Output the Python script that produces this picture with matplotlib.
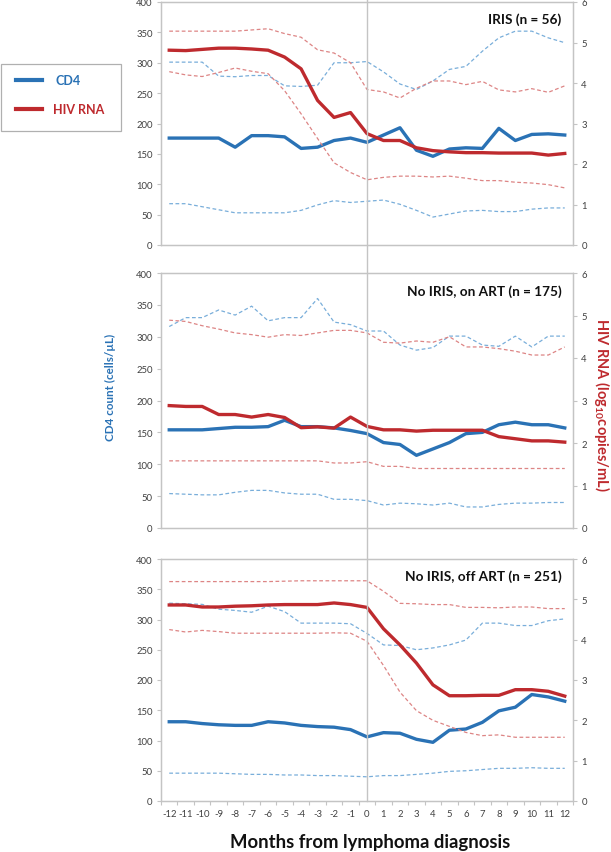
import matplotlib
matplotlib.use('Agg')
from matplotlib import pyplot as plt
from matplotlib import transforms
from matplotlib.lines import Line2D
from matplotlib.patches import Rectangle
import numpy as np

plt.rcParams['font.family'] = ['Lato', 'DejaVu Sans']
plt.rcParams['mathtext.fontset'] = 'custom'
plt.rcParams['mathtext.rm'] = 'Lato:bold'
plt.rcParams['mathtext.bf'] = 'Lato:bold'

months = list(range(-12, 13))

# IRIS (n = 56)
iris_cd4 = [176, 176, 176, 176, 161, 180, 180, 178, 159, 161, 172, 176, 169,
            181, 193, 156, 146, 158, 160, 159, 192, 172, 182, 183, 181]
iris_cd4_hi = [301, 301, 301, 278, 277, 279, 279, 262, 261, 263, 300, 300, 302,
               285, 265, 256, 270, 289, 294, 319, 341, 352, 352, 341, 333]
iris_cd4_lo = [68, 68, 63, 58, 53, 53, 53, 53, 57, 66, 73, 70, 72,
               74, 67, 57, 46, 51, 56, 57, 55, 55, 59, 61, 61]
iris_rna = [4.81, 4.80, 4.83, 4.86, 4.86, 4.84, 4.81, 4.64, 4.35, 3.57, 3.15, 3.27, 2.75,
            2.58, 2.58, 2.40, 2.33, 2.30, 2.28, 2.28, 2.27, 2.27, 2.27, 2.22, 2.26]
iris_rna_hi = [5.28, 5.28, 5.28, 5.28, 5.28, 5.31, 5.34, 5.22, 5.13, 4.82, 4.74, 4.50, 3.84,
               3.78, 3.63, 3.87, 4.05, 4.05, 3.96, 4.04, 3.83, 3.78, 3.86, 3.77, 3.93]
iris_rna_lo = [4.28, 4.20, 4.16, 4.26, 4.37, 4.29, 4.23, 3.81, 3.24, 2.63, 2.03, 1.79, 1.61,
               1.67, 1.70, 1.70, 1.68, 1.70, 1.65, 1.59, 1.59, 1.55, 1.53, 1.49, 1.41]

# No IRIS, on ART (n = 175)
on_cd4 = [154, 154, 154, 156, 158, 158, 159, 169, 159, 159, 157, 153, 148,
          134, 131, 114, 124, 134, 148, 150, 162, 166, 162, 162, 157]
on_cd4_hi = [316, 330, 330, 342, 334, 348, 325, 330, 330, 360, 323, 319, 309,
             309, 287, 279, 283, 301, 301, 287, 285, 301, 284, 301, 301]
on_cd4_lo = [54, 53, 52, 52, 56, 59, 59, 55, 53, 53, 45, 45, 43,
             36, 39, 38, 36, 39, 33, 33, 37, 39, 39, 40, 40]
on_rna = [2.88, 2.86, 2.86, 2.67, 2.67, 2.61, 2.67, 2.60, 2.36, 2.38, 2.35, 2.61, 2.39,
          2.31, 2.31, 2.28, 2.30, 2.30, 2.30, 2.30, 2.15, 2.10, 2.05, 2.05, 2.02]
on_rna_hi = [4.89, 4.86, 4.76, 4.68, 4.59, 4.55, 4.49, 4.55, 4.53, 4.59, 4.65, 4.65, 4.59,
             4.37, 4.35, 4.40, 4.37, 4.50, 4.26, 4.26, 4.22, 4.16, 4.07, 4.07, 4.26]
on_rna_lo = [1.58, 1.58, 1.58, 1.58, 1.58, 1.58, 1.58, 1.58, 1.58, 1.58, 1.53, 1.53, 1.56,
             1.45, 1.45, 1.40, 1.40, 1.40, 1.40, 1.40, 1.40, 1.40, 1.40, 1.40, 1.40]

# No IRIS, off ART (n = 251)
off_cd4 = [131, 131, 128, 126, 125, 125, 131, 129, 125, 123, 122, 118, 106,
           113, 112, 102, 97, 117, 119, 130, 149, 155, 176, 172, 165]
off_cd4_hi = [327, 326, 325, 317, 315, 312, 322, 313, 294, 294, 294, 293, 277,
              258, 257, 250, 253, 258, 266, 294, 294, 290, 290, 298, 301]
off_cd4_lo = [46, 46, 46, 46, 45, 44, 44, 43, 43, 42, 42, 41, 40,
              42, 42, 44, 46, 49, 50, 52, 54, 54, 55, 54, 54]
off_rna = [4.86, 4.86, 4.81, 4.81, 4.83, 4.84, 4.86, 4.87, 4.87, 4.87, 4.91, 4.87, 4.80,
           4.27, 3.87, 3.42, 2.88, 2.61, 2.61, 2.62, 2.62, 2.76, 2.76, 2.72, 2.60]
off_rna_hi = [5.44, 5.44, 5.44, 5.44, 5.44, 5.44, 5.44, 5.45, 5.46, 5.46, 5.46, 5.46, 5.46,
              5.20, 4.90, 4.89, 4.87, 4.87, 4.80, 4.80, 4.79, 4.81, 4.81, 4.77, 4.77]
off_rna_lo = [4.25, 4.19, 4.23, 4.20, 4.16, 4.16, 4.16, 4.16, 4.16, 4.16, 4.17, 4.16, 3.96,
              3.36, 2.70, 2.24, 2.00, 1.85, 1.70, 1.62, 1.64, 1.58, 1.58, 1.58, 1.58]

panels = [
    ('IRIS (n = 56)', iris_cd4, iris_cd4_hi, iris_cd4_lo, iris_rna, iris_rna_hi, iris_rna_lo),
    ('No IRIS, on ART (n = 175)', on_cd4, on_cd4_hi, on_cd4_lo, on_rna, on_rna_hi, on_rna_lo),
    ('No IRIS, off ART (n = 251)', off_cd4, off_cd4_hi, off_cd4_lo, off_rna, off_rna_hi, off_rna_lo),
]

blue = '#2A72B5'
red = '#BE2A2E'
lblue = '#79AEDA'
lred = '#DD8585'
grey = '#C4C4C4'
txt = '#404040'

fig = plt.figure(figsize=(6.11, 8.53), dpi=100)

# left, bottom, width, height in figure fractions (pixels / figure size)
boxes = [
    (161 / 611, (853 - 246) / 853, 412 / 611, 243 / 853),
    (161 / 611, (853 - 529) / 853, 412 / 611, 255 / 853),
    (161 / 611, (853 - 802) / 853, 412 / 611, 242 / 853),
]

axes = []
for i, (title, cd4, cd4_hi, cd4_lo, rna, rna_hi, rna_lo) in enumerate(panels):
    ax = fig.add_axes(boxes[i])
    ax2 = ax.twinx()
    axes.append(ax)

    ax.plot(months, cd4_hi, color=lblue, lw=0.9, ls=(0, (3, 2)))
    ax.plot(months, cd4_lo, color=lblue, lw=0.9, ls=(0, (3, 2)))
    ax.plot(months, cd4, color=blue, lw=2.4, solid_joinstyle='round')
    ax2.plot(months, rna_hi, color=lred, lw=0.9, ls=(0, (3, 2)))
    ax2.plot(months, rna_lo, color=lred, lw=0.9, ls=(0, (3, 2)))
    ax2.plot(months, rna, color=red, lw=2.4, solid_joinstyle='round')

    ax.set_xlim(-12.5, 12.5)
    ax.set_ylim(0, 400)
    ax2.set_ylim(0, 6)
    ax.set_yticks(np.arange(0, 401, 50))
    ax2.set_yticks(np.arange(0, 7, 1))

    for a in (ax, ax2):
        for s in a.spines.values():
            s.set_color(grey)
            s.set_linewidth(0.9)
        a.tick_params(axis='y', colors=grey, labelcolor=txt, labelsize=6.8,
                      length=3, width=0.8, pad=3)

    if i == 2:
        ax.set_xticks(np.arange(-12.5, 13, 1))
        ax.set_xticklabels([])
        ax.set_xticks(months, minor=True)
        ax.set_xticklabels([str(m) for m in months], minor=True)
        ax.tick_params(axis='x', which='major', colors=grey, length=3, width=0.8)
        ax.tick_params(axis='x', which='minor', length=0, labelsize=6.8,
                       labelcolor=txt, pad=6)
    else:
        ax.set_xticks([])

    ax.text(0.972, 0.93, title, transform=ax.transAxes, ha='right', va='center',
            fontsize=9.8, fontweight='bold', color='#111111')

# vertical line at month 0 running through all panels
trans = transforms.blended_transform_factory(axes[2].transData, fig.transFigure)
fig.add_artist(Line2D([0, 0], [51 / 853, 1.0], transform=trans, color=grey, lw=1.0))

fig.text(370 / 611, 10 / 853, 'Months from lymphoma diagnosis', ha='center', va='center',
         fontsize=13.3, fontweight='bold', color='#111111')
fig.text(110 / 611, 1 - 387 / 853, 'CD4 count (cells/µL)', rotation=90, ha='center',
         va='center', fontsize=8.4, fontweight='bold', color=blue)
fig.text(602 / 611, 1 - 405 / 853, r'HIV RNA (log$_{\mathbf{10}}$copies/mL)', rotation=-90,
         ha='center', va='center', fontsize=10.5, fontweight='bold', color=red)

# legend box
fig.add_artist(Rectangle((1 / 611, 1 - 132 / 853), 120 / 611, 67 / 853,
                         transform=fig.transFigure, fill=False, ec='#B0B0B0', lw=0.9))
fig.add_artist(Line2D([16 / 611, 42 / 611], [1 - 81 / 853, 1 - 81 / 853],
                      transform=fig.transFigure, color=blue, lw=3))
fig.add_artist(Line2D([16 / 611, 42 / 611], [1 - 110 / 853, 1 - 110 / 853],
                      transform=fig.transFigure, color=red, lw=3))
fig.text(55 / 611, 1 - 81 / 853, 'CD4', ha='left', va='center', fontsize=9,
         fontweight='bold', color=blue)
fig.text(53 / 611, 1 - 110 / 853, 'HIV RNA', ha='left', va='center', fontsize=9,
         fontweight='bold', color=red)

fig.savefig('out.png', dpi=100)
